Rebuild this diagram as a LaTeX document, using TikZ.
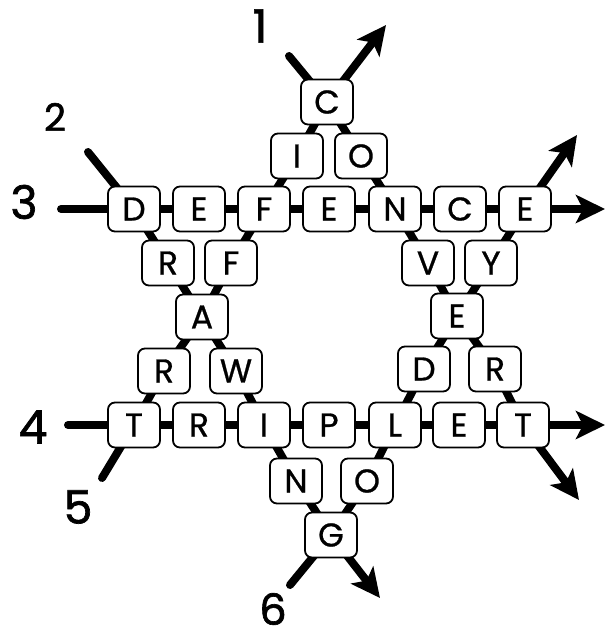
\documentclass[tikz,border=0pt]{standalone}
\usepackage{fontspec}
\setmainfont{Poppins}
\newfontfamily\tilefont{Poppins}[FakeBold=0.8]
\newfontfamily\numfont{Poppins}[FakeBold=1.5]
\usetikzlibrary{arrows.meta,backgrounds}

\begin{document}
\begin{tikzpicture}[x=1pt,y=-1pt,word/.style={line width=8pt,line cap=round,line join=round,>={Stealth[length=29pt,width=28pt,inset=7pt]}},tile/.style={rectangle,draw=black,fill=white,rounded corners=7pt,line width=1.8pt,minimum width=52pt,minimum height=45pt,inner sep=0pt,font=\tilefont\fontsize{33}{33}\selectfont},num/.style={inner sep=0pt,font=\numfont\fontsize{46}{46}\selectfont}]
        \useasboundingbox (0,0) rectangle (605,635);

        \node[tile] (c) at (327,102) {C};
        \node[tile] (i) at (297,156) {I};
        \node[tile] (o) at (361,156) {O};

        \node[tile] (def1) at (134,209) {D};
        \node[tile] (def2) at (199,209) {E};
        \node[tile] (def3) at (264,209) {F};
        \node[tile] (def4) at (329,209) {E};
        \node[tile] (def5) at (395,209) {N};
        \node[tile] (def6) at (460,209) {C};
        \node[tile] (def7) at (525,209) {E};

        \node[tile] (r1) at (168,263) {R};
        \node[tile] (f) at (231,263) {F};
        \node[tile] (v) at (428,263) {V};
        \node[tile] (y) at (491,263) {Y};

        \node[tile] (a) at (202,317) {A};
        \node[tile] (e) at (457,316) {E};

        \node[tile] (r2) at (164,371) {R};
        \node[tile] (w) at (236,371) {W};
        \node[tile] (d) at (424,369) {D};
        \node[tile] (r3) at (495,369) {R};

        \node[tile] (trip1) at (134,425) {T};
        \node[tile] (trip2) at (199,425) {R};
        \node[tile] (trip3) at (264,425) {I};
        \node[tile] (trip4) at (329,425) {P};
        \node[tile] (trip5) at (395,425) {L};
        \node[tile] (trip6) at (459,425) {E};
        \node[tile] (trip7) at (523,425) {T};

        \node[tile] (n) at (296,481) {N};
        \node[tile] (o2) at (367,481) {O};
        \node[tile] (g) at (331,535) {G};

        \node[num] (n1) at (260,26) {1};
        \node[num,font=\numfont\fontsize{38}{38}\selectfont] (n2) at (55,117) {2};
        \node[num] (n3) at (24,202) {3};
        \node[num] (n4) at (33,427) {4};
        \node[num] (n5) at (78,507) {5};
        \node[num,font=\numfont\fontsize{43}{43}\selectfont] (n6) at (273,609) {6};

        \begin{scope}[on background layer]
            \draw [word,->] (289,56) -- (c.center) -- (o.center) -- (def5.center) -- (v.center) -- (e.center) -- (r3.center) -- (trip7.center) -- (579,500);
            \draw [word,->] (88,152) -- (def1.center) -- (r1.center) -- (a.center) -- (w.center) -- (trip3.center) -- (n.center) -- (g.center) -- (380,598);
            \draw [word,->] (61,209) -- (def1.center) -- (def7.center) -- (605,209);
            \draw [word,->] (68,425) -- (trip1.center) -- (trip7.center) -- (605,425);
            \draw [word,->] (102,478) -- (trip1.center) -- (r2.center) -- (a.center) -- (f.center) -- (def3.center) -- (i.center) -- (c.center) -- (386,25);
            \draw [word,->] (290,585) -- (g.center) -- (o2.center) -- (trip5.center) -- (d.center) -- (e.center) -- (y.center) -- (def7.center) -- (577,135);
        \end{scope}
    \end{tikzpicture}
\end{document}
